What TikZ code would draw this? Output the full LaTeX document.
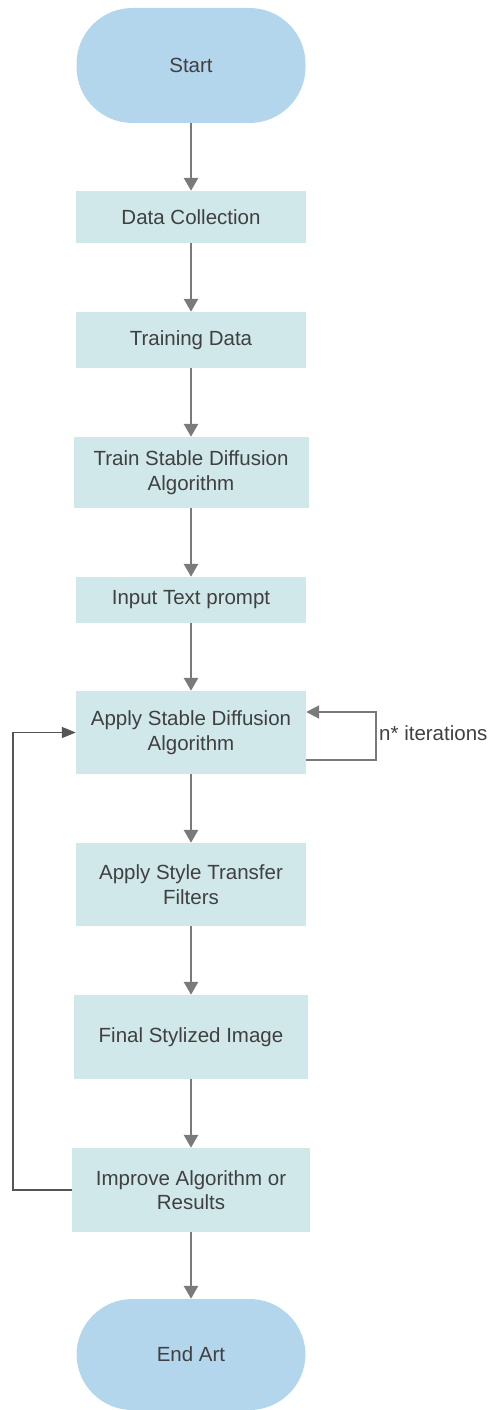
\documentclass[tikz,border=0pt]{standalone}
\usepackage{fontspec}
\setmainfont{Liberation Sans}
\usetikzlibrary{arrows.meta}
\definecolor{termfill}{HTML}{B4D6ED}
\definecolor{procfill}{HTML}{D0E8EA}
\definecolor{arrowgray}{HTML}{7A7A7A}
\definecolor{fbgray}{HTML}{555555}
\definecolor{txtgray}{HTML}{404040}
\tikzset{
  base/.style={draw=none, text=txtgray, align=center, inner sep=0pt,
    font=\fontsize{20.5}{24.5}\selectfont},
  term/.style={base, fill=termfill, rounded corners=56pt, minimum width=229pt},
  proc/.style={base, fill=procfill, minimum width=230pt},
  flow/.style={draw=arrowgray, line width=2.8pt, -{Triangle[width=14pt,length=13pt]}},
  loopline/.style={draw=arrowgray, line width=2pt, -{Triangle[width=13pt,length=13pt]}},
  fbline/.style={draw=fbgray, line width=1.4pt, -{Triangle[width=11pt,length=14pt]}},
  lbl/.style={text=txtgray, inner sep=0pt, anchor=west, font=\fontsize{20.5}{24.5}\selectfont}
}
\begin{document}
\begin{tikzpicture}[x=1pt, y=-1pt]
\useasboundingbox (0,0) rectangle (491,1410);
\node[term, minimum height=115pt] (start) at (191,65.5) {Start};
\node[proc, minimum height=52pt] (dc) at (191,217) {Data Collection};
\node[proc, minimum height=56pt] (td) at (191,340) {Training Data};
\node[proc, minimum height=71pt, minimum width=235pt] (tsd) at (191,472.5) {Train Stable Diffusion\\Algorithm};
\node[proc, minimum height=46pt] (itp) at (191,600) {Input Text prompt};
\node[proc, minimum height=83pt] (asd) at (191,732.5) {Apply Stable Diffusion\\Algorithm};
\node[proc, minimum height=83pt] (ast) at (191,884.5) {Apply Style Transfer\\Filters};
\node[proc, minimum height=84pt, minimum width=234pt] (fsi) at (191,1037) {Final Stylized Image};
\node[proc, minimum height=84pt, minimum width=238pt] (iar) at (191,1190) {Improve Algorithm or\\Results};
\node[term, minimum height=111pt] (end) at (191,1354.5) {End Art};

\draw[flow] (start) -- (dc);
\draw[flow] (dc) -- (td);
\draw[flow] (td) -- (tsd);
\draw[flow] (tsd) -- (itp);
\draw[flow] (itp) -- (asd);
\draw[flow] (asd) -- (ast);
\draw[flow] (ast) -- (fsi);
\draw[flow] (fsi) -- (iar);
\draw[flow] (iar) -- (end);

\coordinate (loopR) at (376,760);
\draw[loopline] ([yshift=-27.5pt]asd.east) -- (loopR) |- ([yshift=20.5pt]asd.east);
\node[lbl] (iter) at (379,733) {n* iterations};

\coordinate (fb) at (13,1190);
\draw[fbline] (iar.west) -- (fb) |- (asd.west);
\end{tikzpicture}
\end{document}
